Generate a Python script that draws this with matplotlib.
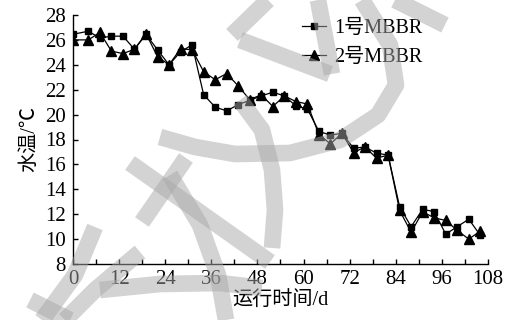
import matplotlib
matplotlib.use("Agg")
import matplotlib.pyplot as plt
from matplotlib.lines import Line2D

plt.rcParams['font.family'] = ['Liberation Serif', 'Noto Sans CJK SC', 'DejaVu Sans']

# sampling days and water temperature of the two reactors
days = [0, 4, 7, 10, 13, 16, 19, 22, 25, 28, 31, 34, 37, 40, 43, 46, 49, 52,
        55, 58, 61, 64, 67, 70, 73, 76, 79, 82, 85, 88, 91, 94, 97, 100, 103, 106]
temp1 = [26.45, 26.7, 26.15, 26.3, 26.3, 25.25, 26.45, 25.2, 24.0, 25.05, 25.6, 21.6,
         20.6, 20.3, 20.8, 21.15, 21.5, 21.8, 21.5, 20.7, 20.45, 18.65, 18.35, 18.5,
         17.3, 17.4, 16.9, 16.75, 12.6, 11.0, 12.4, 12.2, 10.4, 11.0, 11.6, 10.3]
temp2 = [26.0, 26.0, 26.6, 25.1, 24.9, 25.25, 26.5, 24.65, 24.0, 25.3, 25.2, 23.45,
         22.8, 23.3, 22.3, 21.2, 21.6, 20.65, 21.5, 21.05, 20.85, 18.4, 17.65, 18.5,
         16.95, 17.4, 16.5, 16.75, 12.3, 10.55, 12.2, 11.7, 11.5, 10.7, 10.0, 10.65]
labels = ['1号MBBR', '2号MBBR']

xticks = list(range(0, 109, 12))
yticks = list(range(8, 29, 2))

fig = plt.figure(figsize=(5.1, 3.2), dpi=100)
ax = fig.add_axes([73 / 510, 1 - 264 / 320, 415 / 510, 249 / 320])

ax.plot(days, temp1, color='black', lw=0.9, marker='s', ms=5, label=labels[0])
ax.plot(days, temp2, color='black', lw=0.9, marker='^', ms=6.5, label=labels[1])

ax.set_xlim(0, 108)
ax.set_ylim(8, 28)
ax.set_xticks(xticks)
ax.set_xticks(range(6, 108, 12), minor=True)
ax.set_yticks(yticks)
for side in ('top', 'right'):
    ax.spines[side].set_visible(False)
for side in ('left', 'bottom'):
    ax.spines[side].set_linewidth(1.0)
ax.tick_params(which='both', direction='in', length=3.5, width=1.0,
               labelsize=15, colors='black')
ax.tick_params(axis='x', pad=4)
ax.tick_params(axis='y', pad=5)

ax.set_xlabel('运行时间/d', fontsize=14.5, labelpad=2)
ax.set_ylabel('水温/℃', fontsize=14.5, labelpad=4)

ax.legend(loc='upper left', bbox_to_anchor=(302 / 510, 1 - 19 / 320),
          bbox_transform=fig.transFigure, frameon=False, fontsize=14.5,
          handlelength=1.2, handletextpad=0.4, labelspacing=0.5,
          borderpad=0, borderaxespad=0)

# grey stamp strokes over the plot, in pixel coordinates from the top-left
strokes = [
    [(362, 0), (390, 45), (396, 85), (378, 115), (340, 140), (290, 153),
     (235, 154), (195, 147), (160, 137)],
    [(240, 100), (262, 130), (272, 170), (275, 210), (272, 248)],
    [(130, 163), (270, 262)],
    [(186, 158), (142, 222)],
    [(170, 175), (200, 225), (218, 275), (226, 320)],
    [(95, 227), (75, 275), (42, 320)],
    [(140, 252), (95, 290), (65, 320)],
    [(100, 290), (160, 284), (220, 283), (262, 288)],
    [(30, 300), (70, 320)],
    [(232, 35), (268, 0)],
    [(240, 40), (330, 74)],
    [(318, 0), (332, 74)],
    [(395, 0), (445, 25)],
]
for pts in strokes:
    xs = [p[0] / 510 for p in pts]
    ys = [1 - p[1] / 320 for p in pts]
    fig.add_artist(Line2D(xs, ys, transform=fig.transFigure, color='#a8a8a8',
                          alpha=0.5, lw=12, solid_capstyle='butt',
                          solid_joinstyle='round', zorder=10))

fig.savefig('out.png', dpi=100)
